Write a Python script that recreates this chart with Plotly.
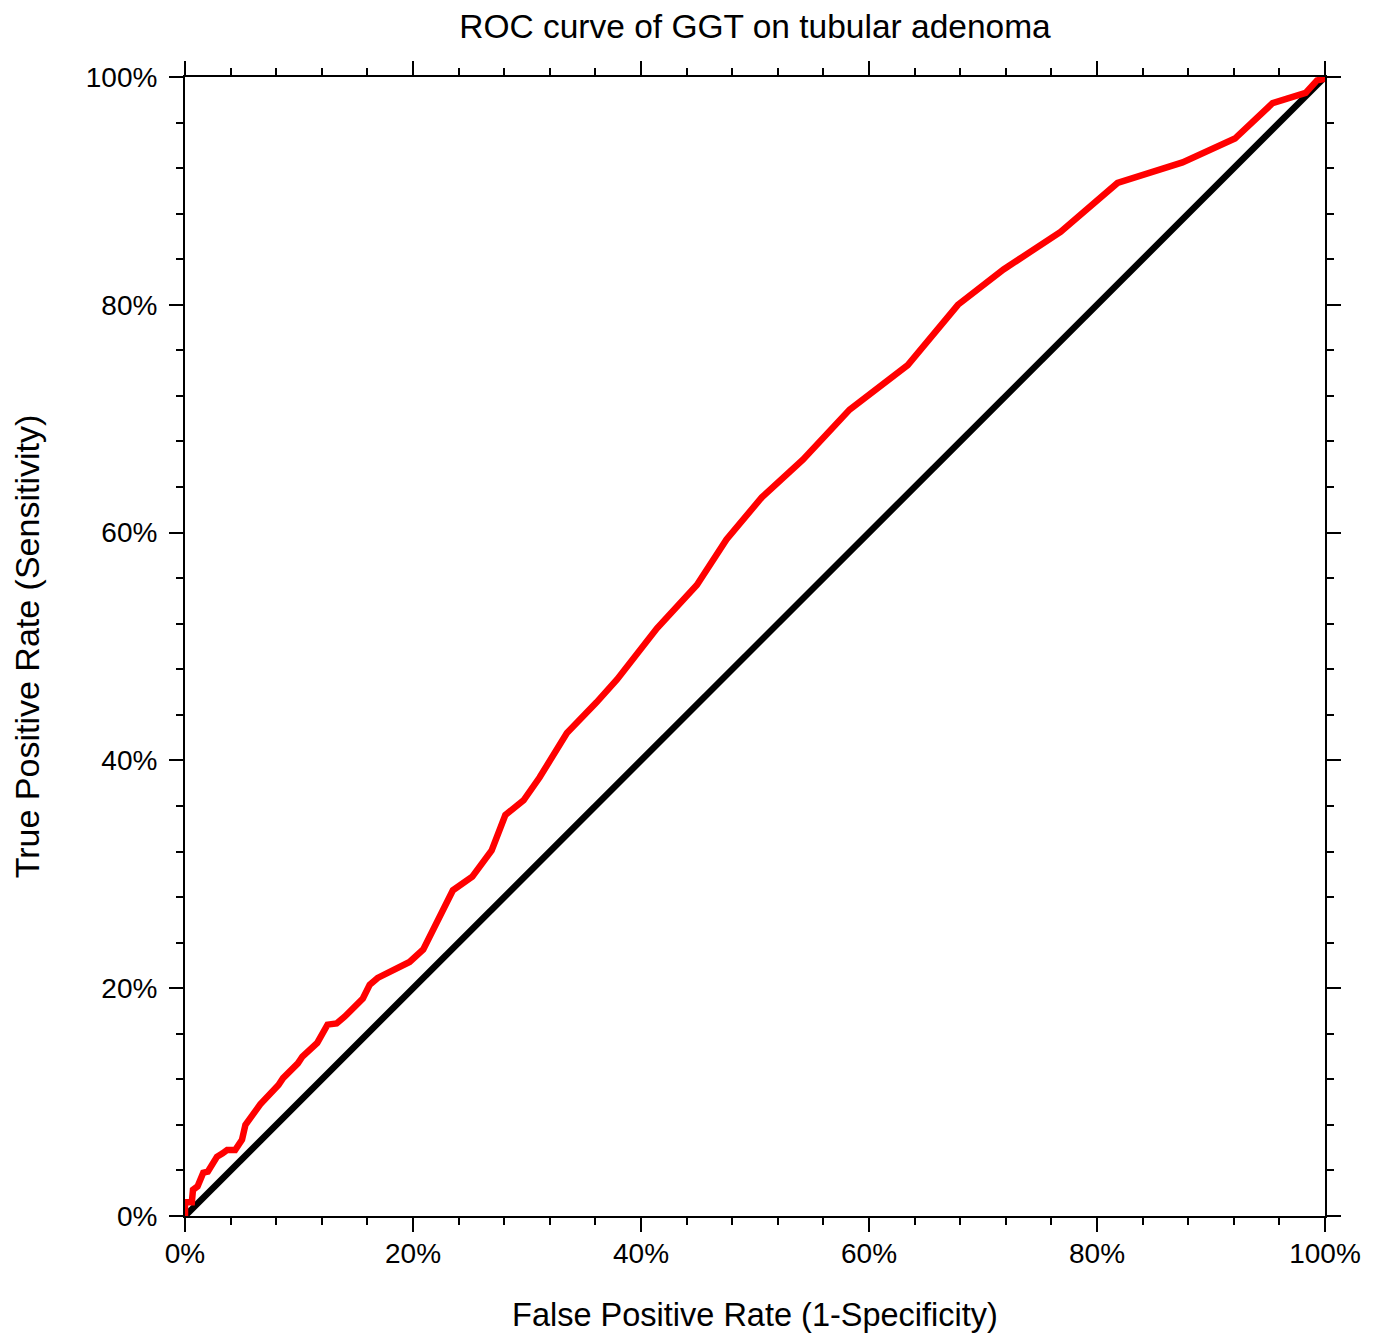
import plotly.graph_objects as go

# ROC curve (false positive rate, true positive rate)
fpr = [0.0, 0.0, 0.006, 0.007, 0.011, 0.013, 0.016, 0.020, 0.024, 0.026, 0.028,
       0.033, 0.037, 0.044, 0.046, 0.050, 0.053, 0.060, 0.066, 0.082, 0.086,
       0.099, 0.103, 0.116, 0.125, 0.133, 0.140, 0.156, 0.162, 0.169, 0.197,
       0.209, 0.213, 0.235, 0.252, 0.269, 0.281, 0.297, 0.311, 0.335, 0.361,
       0.379, 0.414, 0.449, 0.475, 0.506, 0.542, 0.583, 0.634, 0.678, 0.718,
       0.768, 0.818, 0.875, 0.921, 0.954, 0.983, 0.993, 0.998, 1.0]
tpr = [0.0, 0.012, 0.012, 0.023, 0.026, 0.032, 0.038, 0.039, 0.045, 0.047, 0.052,
       0.055, 0.058, 0.058, 0.061, 0.067, 0.080, 0.091, 0.098, 0.115, 0.121,
       0.134, 0.140, 0.152, 0.168, 0.169, 0.175, 0.191, 0.203, 0.209, 0.223,
       0.234, 0.242, 0.286, 0.298, 0.321, 0.352, 0.365, 0.385, 0.424, 0.451,
       0.471, 0.516, 0.554, 0.594, 0.631, 0.664, 0.708, 0.747, 0.800, 0.831,
       0.864, 0.907, 0.925, 0.946, 0.977, 0.986, 0.997, 0.998, 1.0]

# Reference (chance) line
ref_x = [0.0, 1.0]
ref_y = [0.0, 1.0]

tick_vals = [0.0, 0.2, 0.4, 0.6, 0.8, 1.0]
tick_text = ["0%", "20%", "40%", "60%", "80%", "100%"]

FONT = "Liberation Sans, Arial, sans-serif"

# page body has an 8px margin, so the figure is sized/placed to compensate
W, H = 1373, 1325
OFF = 8

fig = go.Figure()
fig.add_trace(go.Scatter(x=ref_x, y=ref_y, mode="lines",
                         line=dict(color="#000000", width=6.5), showlegend=False))
fig.add_trace(go.Scatter(x=fpr, y=tpr, mode="lines",
                         line=dict(color="#ff0000", width=6.5), showlegend=False))

axis_common = dict(
    range=[0, 1],
    automargin=False,
    tickvals=tick_vals,
    ticktext=tick_text,
    ticks="outside",
    ticklen=14,
    tickwidth=2,
    tickcolor="#000000",
    showline=True,
    linecolor="#000000",
    linewidth=2,
    mirror="allticks",
    showgrid=False,
    zeroline=False,
    tickfont=dict(family=FONT, size=28, color="#000000"),
    minor=dict(dtick=0.04, ticks="outside", ticklen=7, tickwidth=2,
               tickcolor="#000000", showgrid=False),
)

fig.update_xaxes(**axis_common,
                 ticklabelstandoff=-3,
                 title=dict(text="False Positive Rate (1-Specificity)",
                            font=dict(family=FONT, size=32.5, color="#000000"),
                            standoff=37))
fig.update_yaxes(**axis_common,
                 ticklabelstandoff=6,
                 title=dict(text="True Positive Rate (Sensitivity)",
                            font=dict(family=FONT, size=34, color="#000000"),
                            standoff=36))

fig.update_layout(
    width=W, height=H,
    margin=dict(l=185 - OFF, r=56, t=77 - OFF, b=117),
    paper_bgcolor="#ffffff",
    plot_bgcolor="#ffffff",
    title=dict(text="ROC curve of GGT on tubular adenoma",
               font=dict(family=FONT, size=33.5, color="#000000"),
               x=(755 - OFF) / W, xanchor="center",
               y=1 - (26 - OFF) / H, yanchor="middle",
               xref="container", yref="container"),
)

fig.write_html("out.html")
